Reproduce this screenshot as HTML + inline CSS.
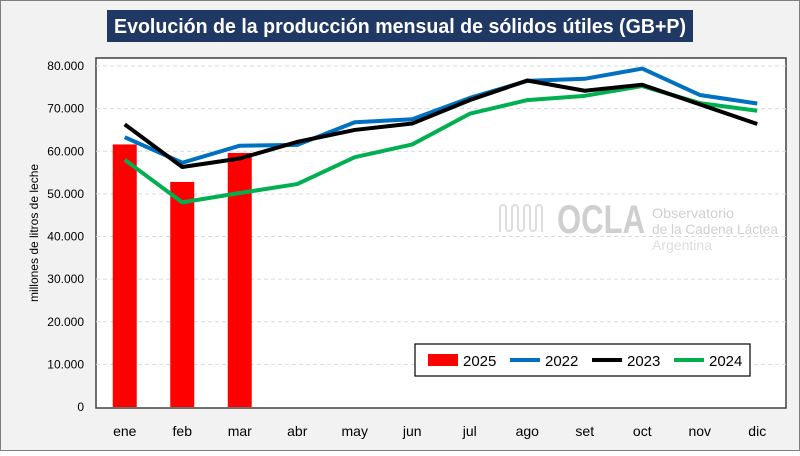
<!DOCTYPE html>
<html><head><meta charset="utf-8"><style>
body{margin:0;background:#fff;}
svg text{font-family:"Liberation Sans",sans-serif;}
</style></head><body>
<svg id="chart" width="800" height="451" viewBox="0 0 800 451" xmlns="http://www.w3.org/2000/svg">
<rect x="0.5" y="0.5" width="799" height="450" fill="#f2f2f2" stroke="#7f7f7f"/>
<rect x="107" y="10" width="586" height="32" fill="#1f3864"/>
<text x="400" y="33" text-anchor="middle" font-size="20" font-weight="bold" fill="#fff" textLength="572" lengthAdjust="spacingAndGlyphs">Evolución de la producción mensual de sólidos útiles (GB+P)</text>
<rect x="96" y="58" width="690" height="350" fill="#fff" stroke="#404040" stroke-width="1.5"/>
<g id="grid"></g>
<g id="watermark" fill="#cfcfcf">
<text x="557" y="233" font-size="40" font-weight="bold" textLength="88" lengthAdjust="spacingAndGlyphs">OCLA</text>
<text x="652" y="218" font-size="14" fill="#d0d0d0" textLength="82" lengthAdjust="spacingAndGlyphs">Observatorio</text>
<text x="652" y="234" font-size="14" fill="#d0d0d0" textLength="126" lengthAdjust="spacingAndGlyphs">de la Cadena Láctea</text>
<text x="652" y="250" font-size="14" fill="#dddddd" textLength="60" lengthAdjust="spacingAndGlyphs">Argentina</text>
<path d="M500 232 V208 a3 3 0 0 1 6 0 V228 a3 3 0 0 0 6 0 V208 a3 3 0 0 1 6 0 V228 a3 3 0 0 0 6 0 V208 a3 3 0 0 1 6 0 V228 a3 3 0 0 0 6 0 V208 a3 3 0 0 1 6 0 V232" fill="none" stroke="#dddddd" stroke-width="2"/>
</g>
<g id="marks"></g>
<g id="axes"></g>
<text transform="translate(38,233) rotate(-90)" text-anchor="middle" font-size="12" fill="#000">millones de litros de leche</text>
<g>
<rect x="415" y="344" width="335" height="32" fill="#fff" stroke="#000" stroke-width="1.2"/>
<rect x="428" y="354" width="30" height="12" fill="#ff0000"/>
<text x="463" y="366" font-size="15">2025</text>
<line x1="510" y1="360" x2="540" y2="360" stroke="#0070c0" stroke-width="4"/>
<text x="545" y="366" font-size="15">2022</text>
<line x1="592" y1="360" x2="622" y2="360" stroke="#000" stroke-width="4"/>
<text x="627" y="366" font-size="15">2023</text>
<line x1="674" y1="360" x2="704" y2="360" stroke="#00b050" stroke-width="4"/>
<text x="709" y="366" font-size="15">2024</text>
</g>
</svg>
<script>
const months=["ene","feb","mar","abr","may","jun","jul","ago","set","oct","nov","dic"];
const yTicks=[0,10000,20000,30000,40000,50000,60000,70000,80000];
const yTickLabels=["0","10.000","20.000","30.000","40.000","50.000","60.000","70.000","80.000"];
const s2025=[61600,52800,59600];
const s2022=[63300,57300,61300,61500,66800,67500,72500,76500,77000,79400,73200,71200];
const s2023=[66300,56300,58300,62200,65000,66500,72000,76600,74200,75600,71000,66400];
const s2024=[58000,48000,50200,52300,58600,61600,68800,72000,73000,75300,71300,69500];
const NS="http://www.w3.org/2000/svg";
const x0=96,pw=690,y0=407,ppu=341/80000;
const step=pw/months.length;
function xs(i){return x0+step*(i+0.5);}
function ys(v){return y0-v*ppu;}
function mk(tag,attrs,parent){const e=document.createElementNS(NS,tag);for(const k in attrs)e.setAttribute(k,attrs[k]);parent.appendChild(e);return e;}
const grid=document.getElementById('grid'),axes=document.getElementById('axes'),marks=document.getElementById('marks');
yTicks.forEach((t,i)=>{
  if(t>0){const g=mk('line',{x1:x0,x2:x0+pw,y1:ys(t),y2:ys(t),stroke:'#d9d9d9','stroke-dasharray':'4 3'},grid);
  
  }
  const l=mk('text',{x:84,y:ys(t)+4,'text-anchor':'end','font-size':'12',fill:'#000'},axes);
  l.textContent=yTickLabels[i];
  
  
});
months.forEach((m,i)=>{
  const l=mk('text',{x:xs(i),y:436,'text-anchor':'middle','font-size':'14',fill:'#000'},axes);
  l.textContent=m;
  
  
});
s2025.forEach((v,i)=>{
  const b=mk('rect',{x:xs(i)-12,y:ys(v),width:24,height:y0-ys(v),fill:'#ff0000'},marks);
  
  
});
[[s2024,'#00b050','line-2024'],[s2022,'#0070c0','line-2022'],[s2023,'#000000','line-2023']].forEach(([d,c,n])=>{
  const p=mk('polyline',{points:d.map((v,i)=>xs(i)+','+ys(v)).join(' '),fill:'none',stroke:c,'stroke-width':4,'stroke-linejoin':'round'},marks);
  
  
});
</script>
</body></html>
